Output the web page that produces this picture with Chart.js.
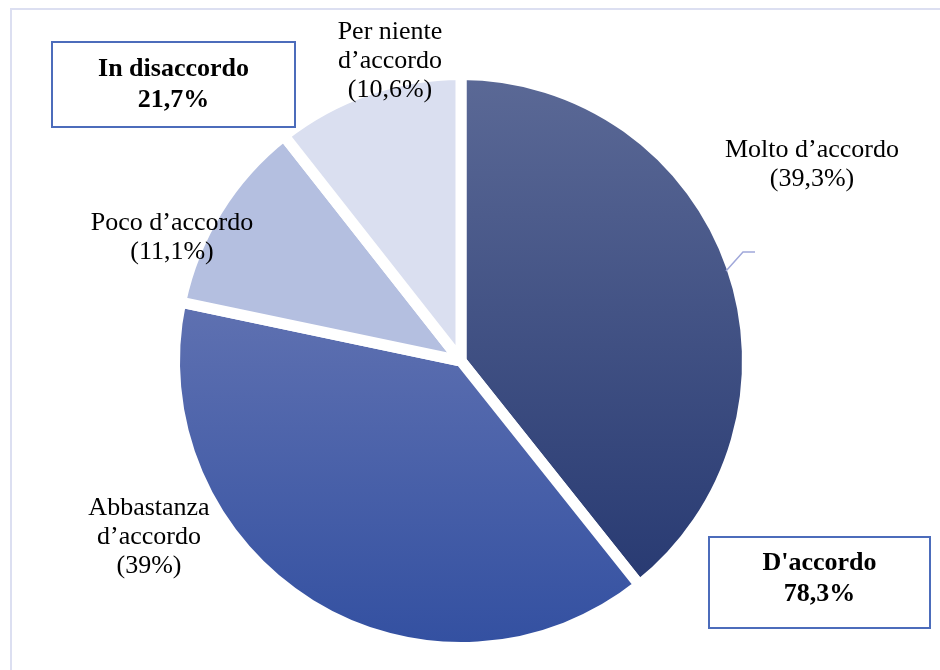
<!DOCTYPE html>
<html lang="it">
<head>
    <meta charset="UTF-8">
    <title>Grado di accordo</title>
    <script src="https://cdn.jsdelivr.net/npm/chart.js"></script>
    <style>
        body {
            margin: 0;
            padding: 0;
            background: #fff;
        }
        #wrap {
            width: 940px;
            height: 670px;
        }
    </style>
</head>
<body>
    <div id="wrap">
        <canvas id="torta" width="940" height="670"></canvas>
    </div>

    <script>
        // dati (percentuali) in senso orario partendo dalle ore 12
        const categorie = [
            ['Molto d’accordo'],
            ['Abbastanza', 'd’accordo'],
            ['Poco d’accordo'],
            ['Per niente', 'd’accordo']
        ];
        const valori = [39.3, 39, 11.1, 10.6];
        const gruppi = ['D\'accordo', 'In disaccordo'];
        const gruppoIndici = [[0, 1], [2, 3]];

        // colori: [alto, basso] del gradiente di ogni fetta
        const coloriFetta = [
            ['#5b6996', '#283a72'],
            ['#5f71b1', '#3350a1'],
            ['#b4bfe0', '#b4bfe0'],
            ['#dadff0', '#dadff0']
        ];

        const BORDO = 11;
        const serif = '"Liberation Serif", "Times New Roman", serif';

        function fmt(v) {
            return (Math.round(v * 10) / 10).toString().replace('.', ',');
        }

        // gradiente verticale calcolato sull'ingombro della fetta
        function sfondo(ctx) {
            const chart = ctx.chart;
            const area = chart.chartArea;
            const i = ctx.dataIndex;
            const c = coloriFetta[i];
            if (!area) return c[0];
            const cx = (area.left + area.right) / 2;
            const cy = (area.top + area.bottom) / 2;
            const R = (Math.min(area.right - area.left, area.bottom - area.top) - BORDO) / 2;
            const tot = valori.reduce((a, b) => a + b, 0);
            let a0 = -Math.PI / 2;
            for (let k = 0; k < i; k++) a0 += valori[k] / tot * Math.PI * 2;
            const a1 = a0 + valori[i] / tot * Math.PI * 2;
            let ys = [cy, cy + Math.sin(a0) * R, cy + Math.sin(a1) * R];
            for (let t = -Math.PI / 2; t <= Math.PI * 2; t += Math.PI / 2) {
                if (t > a0 && t < a1) ys.push(cy + Math.sin(t) * R);
            }
            const g = chart.ctx.createLinearGradient(0, Math.min(...ys), 0, Math.max(...ys));
            g.addColorStop(0, c[0]);
            g.addColorStop(1, c[1]);
            return g;
        }

        const etichette = {
            id: 'etichette',
            beforeDraw(chart) {
                const ctx = chart.ctx;
                ctx.save();
                ctx.fillStyle = '#dcdff1';
                ctx.fillRect(10, 8, 930, 2);
                ctx.fillRect(10, 8, 2, 662);
                ctx.restore();
            },
            afterDraw(chart) {
                const ctx = chart.ctx;
                ctx.save();

                // linea di richiamo "Molto d'accordo"
                ctx.strokeStyle = '#a0a8da';
                ctx.lineWidth = 1.5;
                ctx.beginPath();
                ctx.moveTo(726, 271);
                ctx.lineTo(743, 252);
                ctx.lineTo(755, 252);
                ctx.stroke();

                // etichette delle fette
                const pos = [
                    [812, 157],
                    [149, 515],
                    [172, 230],
                    [390, 39]
                ];
                ctx.fillStyle = '#000';
                ctx.textAlign = 'center';
                ctx.textBaseline = 'alphabetic';
                ctx.font = '26px ' + serif;
                chart.data.labels.forEach((lab, i) => {
                    const righe = lab.concat(['(' + fmt(valori[i]) + '%)']);
                    righe.forEach((r, j) => {
                        ctx.fillText(r, pos[i][0], pos[i][1] + j * 29);
                    });
                });

                // riquadri dei totali
                const box = [
                    [709, 537, 221, 91, 570],
                    [52, 42, 243, 85, 76]
                ];
                gruppi.forEach((nome, g) => {
                    const b = box[g];
                    const somma = gruppoIndici[g].reduce((s, k) => s + valori[k], 0);
                    ctx.fillStyle = '#fff';
                    ctx.fillRect(b[0], b[1], b[2], b[3]);
                    ctx.strokeStyle = '#4c6cbb';
                    ctx.lineWidth = 2;
                    ctx.strokeRect(b[0], b[1], b[2], b[3]);
                    ctx.fillStyle = '#000';
                    ctx.font = 'bold 26px ' + serif;
                    const mx = b[0] + b[2] / 2;
                    ctx.fillText(nome, mx, b[4]);
                    ctx.fillText(fmt(somma) + '%', mx, b[4] + 31);
                });

                ctx.restore();
            }
        };

        new Chart(document.getElementById('torta'), {
            type: 'pie',
            data: {
                labels: categorie,
                datasets: [{
                    data: valori,
                    backgroundColor: sfondo,
                    borderColor: '#ffffff',
                    borderWidth: BORDO,
                    hoverOffset: 0
                }]
            },
            options: {
                responsive: false,
                animation: false,
                layout: {
                    padding: { top: 69, bottom: 17, left: 169, right: 187 }
                },
                plugins: {
                    legend: { display: false },
                    tooltip: { enabled: false }
                }
            },
            plugins: [etichette]
        });
    </script>
</body>
</html>
